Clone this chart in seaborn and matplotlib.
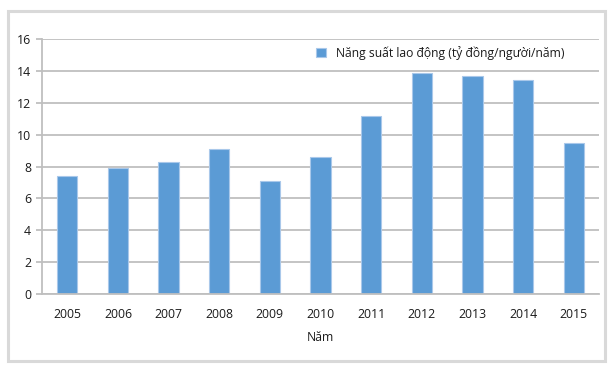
import matplotlib
matplotlib.use("Agg")
import matplotlib.pyplot as plt
import seaborn as sns
import pandas as pd
from matplotlib.patches import Rectangle

years = ["2005", "2006", "2007", "2008", "2009", "2010", "2011", "2012", "2013", "2014", "2015"]
values = [7.4, 7.9, 8.3, 9.1, 7.1, 8.6, 11.2, 13.85, 13.7, 13.4, 9.5]
series_label = "Năng suất lao động (tỷ đồng/người/năm)"
x_title = "Năm"
y_ticks = [0, 2, 4, 6, 8, 10, 12, 14, 16]

sns.set_theme(style="white")
plt.rcParams["font.family"] = ["Open Sans", "DejaVu Sans"]

df = pd.DataFrame({"year": years, "value": values})

fig = plt.figure(figsize=(6.14, 3.71), dpi=100)
ax = fig.add_axes([42 / 614, 77 / 371, (599 - 42) / 614, (294 - 39) / 371])

sns.barplot(data=df, x="year", y="value", color="#5b9bd5", saturation=1,
            width=0.4, edgecolor="#a9c8ea", linewidth=0.8, label=series_label, ax=ax)

ax.set_ylim(0, 16)
ax.set_yticks(y_ticks)
ax.set_yticklabels([str(t) for t in y_ticks])
ax.set_xlim(-0.5, len(years) - 0.5)

ax.set_axisbelow(True)
ax.yaxis.grid(True, color="#bfbfbf", linewidth=1.3)
ax.xaxis.grid(False)
for s in ["top", "right"]:
    ax.spines[s].set_visible(False)
for s in ["left", "bottom"]:
    ax.spines[s].set_color("#bfbfbf")
    ax.spines[s].set_linewidth(1.3)

txt_color = "#1a1a1a"
ax.tick_params(axis="y", which="both", left=True, length=4, width=1.3, color="#bfbfbf",
               pad=4, labelsize=8.8, labelcolor=txt_color)
ax.tick_params(axis="x", which="both", bottom=False, length=0, pad=10,
               labelsize=8.8, labelcolor=txt_color)

ax.set_ylabel("")
ax.set_xlabel(x_title, fontsize=8.8, color=txt_color, labelpad=7)

fs = 8.75
px = fs * 100 / 72
leg = ax.legend(loc="center left", bbox_to_anchor=(316 / 614, 1 - 53 / 371),
                bbox_transform=fig.transFigure, frameon=False, fontsize=fs,
                borderpad=0, borderaxespad=0, handlelength=10 / px,
                handleheight=10 / px, handletextpad=10 / px)
for t in leg.get_texts():
    t.set_color(txt_color)

fig.patches.append(Rectangle((8 / 614, 10 / 371), 597 / 614, 350 / 371,
                             transform=fig.transFigure, fill=False,
                             edgecolor="#d9d9d9", linewidth=2.2, zorder=0))

fig.savefig("out.png", dpi=100)
